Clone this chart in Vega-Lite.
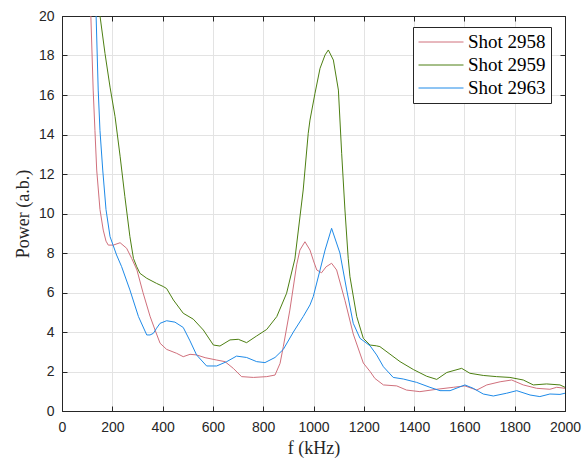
{
  "$schema": "https://vega.github.io/schema/vega-lite/v6.json",
  "width": 503,
  "height": 395,
  "autosize": {"type": "none"},
  "padding": {"left": 62, "top": 16, "right": 19, "bottom": 47},
  "background": "white",
  "datasets": {
    "spectra": [
      {"s":"Shot 2958","f":105,"p":23},{"s":"Shot 2958","f":114,"p":20.3},{"s":"Shot 2958","f":124,"p":16.25},{"s":"Shot 2958","f":131,"p":14.2},{"s":"Shot 2958","f":138,"p":12.2},{"s":"Shot 2958","f":151,"p":10.2},{"s":"Shot 2958","f":164,"p":9.16},{"s":"Shot 2958","f":175,"p":8.6},{"s":"Shot 2958","f":184,"p":8.4},{"s":"Shot 2958","f":204,"p":8.4},{"s":"Shot 2958","f":231,"p":8.52},{"s":"Shot 2958","f":257,"p":8.24},{"s":"Shot 2958","f":277,"p":7.73},{"s":"Shot 2958","f":298,"p":7.14},{"s":"Shot 2958","f":322,"p":6.0},{"s":"Shot 2958","f":350,"p":4.8},{"s":"Shot 2958","f":370,"p":4.1},{"s":"Shot 2958","f":390,"p":3.43},{"s":"Shot 2958","f":416,"p":3.12},{"s":"Shot 2958","f":456,"p":2.92},{"s":"Shot 2958","f":482,"p":2.75},{"s":"Shot 2958","f":509,"p":2.87},{"s":"Shot 2958","f":535,"p":2.84},{"s":"Shot 2958","f":569,"p":2.7},{"s":"Shot 2958","f":615,"p":2.58},{"s":"Shot 2958","f":648,"p":2.5},{"s":"Shot 2958","f":681,"p":2.16},{"s":"Shot 2958","f":714,"p":1.74},{"s":"Shot 2958","f":761,"p":1.7},{"s":"Shot 2958","f":814,"p":1.74},{"s":"Shot 2958","f":847,"p":1.82},{"s":"Shot 2958","f":867,"p":2.41},{"s":"Shot 2958","f":880,"p":3.26},{"s":"Shot 2958","f":906,"p":5.11},{"s":"Shot 2958","f":933,"p":7.4},{"s":"Shot 2958","f":946,"p":8.15},{"s":"Shot 2958","f":966,"p":8.57},{"s":"Shot 2958","f":986,"p":8.15},{"s":"Shot 2958","f":1000,"p":7.6},{"s":"Shot 2958","f":1013,"p":7.14},{"s":"Shot 2958","f":1032,"p":7.0},{"s":"Shot 2958","f":1050,"p":7.3},{"s":"Shot 2958","f":1072,"p":7.48},{"s":"Shot 2958","f":1092,"p":7.14},{"s":"Shot 2958","f":1125,"p":5.6},{"s":"Shot 2958","f":1158,"p":3.9},{"s":"Shot 2958","f":1198,"p":2.43},{"s":"Shot 2958","f":1225,"p":2.0},{"s":"Shot 2958","f":1244,"p":1.65},{"s":"Shot 2958","f":1278,"p":1.32},{"s":"Shot 2958","f":1331,"p":1.27},{"s":"Shot 2958","f":1370,"p":1.06},{"s":"Shot 2958","f":1423,"p":0.98},{"s":"Shot 2958","f":1490,"p":1.1},{"s":"Shot 2958","f":1556,"p":1.2},{"s":"Shot 2958","f":1602,"p":1.27},{"s":"Shot 2958","f":1649,"p":1.06},{"s":"Shot 2958","f":1689,"p":1.32},{"s":"Shot 2958","f":1742,"p":1.48},{"s":"Shot 2958","f":1788,"p":1.57},{"s":"Shot 2958","f":1834,"p":1.32},{"s":"Shot 2958","f":1887,"p":1.15},{"s":"Shot 2958","f":1940,"p":1.1},{"s":"Shot 2958","f":1967,"p":1.2},{"s":"Shot 2958","f":2000,"p":1.15},
      {"s":"Shot 2959","f":140,"p":21.5},{"s":"Shot 2959","f":148,"p":20.3},{"s":"Shot 2959","f":171,"p":18.1},{"s":"Shot 2959","f":191,"p":16.4},{"s":"Shot 2959","f":211,"p":14.9},{"s":"Shot 2959","f":231,"p":12.9},{"s":"Shot 2959","f":250,"p":10.85},{"s":"Shot 2959","f":270,"p":8.83},{"s":"Shot 2959","f":284,"p":7.73},{"s":"Shot 2959","f":297,"p":7.31},{"s":"Shot 2959","f":310,"p":6.97},{"s":"Shot 2959","f":337,"p":6.72},{"s":"Shot 2959","f":376,"p":6.46},{"s":"Shot 2959","f":403,"p":6.3},{"s":"Shot 2959","f":416,"p":6.2},{"s":"Shot 2959","f":443,"p":5.62},{"s":"Shot 2959","f":482,"p":4.95},{"s":"Shot 2959","f":522,"p":4.65},{"s":"Shot 2959","f":562,"p":4.1},{"s":"Shot 2959","f":602,"p":3.34},{"s":"Shot 2959","f":628,"p":3.29},{"s":"Shot 2959","f":668,"p":3.6},{"s":"Shot 2959","f":701,"p":3.63},{"s":"Shot 2959","f":734,"p":3.46},{"s":"Shot 2959","f":774,"p":3.8},{"s":"Shot 2959","f":814,"p":4.13},{"s":"Shot 2959","f":854,"p":4.78},{"s":"Shot 2959","f":893,"p":5.96},{"s":"Shot 2959","f":926,"p":7.7},{"s":"Shot 2959","f":959,"p":11.19},{"s":"Shot 2959","f":979,"p":14.06},{"s":"Shot 2959","f":986,"p":14.73},{"s":"Shot 2959","f":1006,"p":16.09},{"s":"Shot 2959","f":1026,"p":17.35},{"s":"Shot 2959","f":1046,"p":18.03},{"s":"Shot 2959","f":1059,"p":18.28},{"s":"Shot 2959","f":1079,"p":17.77},{"s":"Shot 2959","f":1099,"p":16.25},{"s":"Shot 2959","f":1112,"p":13.05},{"s":"Shot 2959","f":1125,"p":10.18},{"s":"Shot 2959","f":1138,"p":7.73},{"s":"Shot 2959","f":1145,"p":6.8},{"s":"Shot 2959","f":1172,"p":4.78},{"s":"Shot 2959","f":1198,"p":3.68},{"s":"Shot 2959","f":1225,"p":3.34},{"s":"Shot 2959","f":1250,"p":3.3},{"s":"Shot 2959","f":1264,"p":3.26},{"s":"Shot 2959","f":1304,"p":2.88},{"s":"Shot 2959","f":1344,"p":2.5},{"s":"Shot 2959","f":1397,"p":2.1},{"s":"Shot 2959","f":1450,"p":1.76},{"s":"Shot 2959","f":1490,"p":1.6},{"s":"Shot 2959","f":1530,"p":1.95},{"s":"Shot 2959","f":1589,"p":2.16},{"s":"Shot 2959","f":1622,"p":1.91},{"s":"Shot 2959","f":1675,"p":1.8},{"s":"Shot 2959","f":1728,"p":1.74},{"s":"Shot 2959","f":1781,"p":1.7},{"s":"Shot 2959","f":1834,"p":1.57},{"s":"Shot 2959","f":1874,"p":1.32},{"s":"Shot 2959","f":1927,"p":1.37},{"s":"Shot 2959","f":1980,"p":1.32},{"s":"Shot 2959","f":2000,"p":1.2},
      {"s":"Shot 2963","f":125,"p":23},{"s":"Shot 2963","f":135,"p":20.3},{"s":"Shot 2963","f":144,"p":16.25},{"s":"Shot 2963","f":151,"p":14.2},{"s":"Shot 2963","f":162,"p":12.2},{"s":"Shot 2963","f":175,"p":10.2},{"s":"Shot 2963","f":191,"p":8.83},{"s":"Shot 2963","f":217,"p":7.9},{"s":"Shot 2963","f":237,"p":7.31},{"s":"Shot 2963","f":270,"p":6.13},{"s":"Shot 2963","f":304,"p":4.78},{"s":"Shot 2963","f":337,"p":3.85},{"s":"Shot 2963","f":350,"p":3.85},{"s":"Shot 2963","f":363,"p":3.93},{"s":"Shot 2963","f":376,"p":4.19},{"s":"Shot 2963","f":390,"p":4.44},{"s":"Shot 2963","f":416,"p":4.57},{"s":"Shot 2963","f":449,"p":4.5},{"s":"Shot 2963","f":482,"p":4.23},{"s":"Shot 2963","f":509,"p":3.55},{"s":"Shot 2963","f":535,"p":2.84},{"s":"Shot 2963","f":575,"p":2.28},{"s":"Shot 2963","f":615,"p":2.28},{"s":"Shot 2963","f":655,"p":2.5},{"s":"Shot 2963","f":694,"p":2.78},{"s":"Shot 2963","f":734,"p":2.71},{"s":"Shot 2963","f":774,"p":2.5},{"s":"Shot 2963","f":807,"p":2.45},{"s":"Shot 2963","f":847,"p":2.71},{"s":"Shot 2963","f":880,"p":3.12},{"s":"Shot 2963","f":920,"p":4.0},{"s":"Shot 2963","f":959,"p":4.78},{"s":"Shot 2963","f":986,"p":5.37},{"s":"Shot 2963","f":999,"p":5.79},{"s":"Shot 2963","f":1026,"p":7.14},{"s":"Shot 2963","f":1046,"p":8.15},{"s":"Shot 2963","f":1072,"p":9.25},{"s":"Shot 2963","f":1105,"p":8.0},{"s":"Shot 2963","f":1132,"p":6.13},{"s":"Shot 2963","f":1158,"p":4.44},{"s":"Shot 2963","f":1185,"p":3.68},{"s":"Shot 2963","f":1225,"p":3.3},{"s":"Shot 2963","f":1251,"p":2.84},{"s":"Shot 2963","f":1278,"p":2.24},{"s":"Shot 2963","f":1317,"p":1.7},{"s":"Shot 2963","f":1357,"p":1.62},{"s":"Shot 2963","f":1410,"p":1.45},{"s":"Shot 2963","f":1463,"p":1.2},{"s":"Shot 2963","f":1503,"p":1.03},{"s":"Shot 2963","f":1543,"p":1.03},{"s":"Shot 2963","f":1602,"p":1.32},{"s":"Shot 2963","f":1635,"p":1.15},{"s":"Shot 2963","f":1675,"p":0.86},{"s":"Shot 2963","f":1715,"p":0.76},{"s":"Shot 2963","f":1768,"p":0.9},{"s":"Shot 2963","f":1808,"p":1.03},{"s":"Shot 2963","f":1861,"p":0.81},{"s":"Shot 2963","f":1900,"p":0.73},{"s":"Shot 2963","f":1940,"p":0.86},{"s":"Shot 2963","f":1980,"p":0.84},{"s":"Shot 2963","f":2000,"p":0.9}
    ]
  },
  "data": {"name": "spectra"},
  "resolve": {"axis": {"x": "independent", "y": "independent"}},
  "layer": [
    {
      "mark": {"type": "line", "strokeWidth": 1, "clip": true},
      "encoding": {
        "x": {"field": "f", "type": "quantitative", "scale": {"domain": [0, 2000], "nice": false},
              "axis": {"orient": "bottom", "values": [0,200,400,600,800,1000,1200,1400,1600,1800,2000], "format": "d", "labelOverlap": false, "labelFlush": false, "title": "f (kHz)", "grid": true}},
        "y": {"field": "p", "type": "quantitative", "scale": {"domain": [0, 20], "nice": false},
              "axis": {"orient": "left", "values": [0,2,4,6,8,10,12,14,16,18,20], "format": "d", "labelOverlap": false, "labelFlush": false, "title": "Power (a.b.)", "grid": true}},
        "color": {"field": "s", "type": "nominal",
                  "scale": {"domain": ["Shot 2958", "Shot 2959", "Shot 2963"], "range": ["#d0707c", "#4d7f12", "#1e8ae8"]},
                  "legend": {"orient": "none", "legendX": 351, "legendY": 11, "title": null}},
        "order": {"field": "f", "type": "quantitative"}
      }
    },
    {
      "mark": {"type": "point", "opacity": 0},
      "encoding": {
        "x": {"field": "f", "type": "quantitative",
              "axis": {"orient": "top", "values": [0,200,400,600,800,1000,1200,1400,1600,1800,2000], "labels": false, "title": null, "grid": false}},
        "y": {"field": "p", "type": "quantitative",
              "axis": {"orient": "right", "values": [0,2,4,6,8,10,12,14,16,18,20], "labels": false, "title": null, "grid": false}}
      }
    }
  ],
  "config": {
    "view": {"stroke": "#262626", "strokeWidth": 1},
    "axis": {
      "domainColor": "#262626", "domainWidth": 1,
      "tickColor": "#262626", "tickSize": -5, "tickWidth": 1,
      "gridColor": "#e3e3e3", "gridWidth": 1,
      "labelFont": "Liberation Sans", "labelFontSize": 14, "labelColor": "#262626",
      "titleFont": "Liberation Serif", "titleFontSize": 18, "titleFontWeight": "normal", "titleColor": "#262626"
    },
    "axisX": {"labelPadding": 14, "titlePadding": 5},
    "axisY": {"labelPadding": 13, "titlePadding": 6},
    "legend": {
      "symbolType": "stroke", "symbolSize": 2025, "symbolStrokeWidth": 1, "clipHeight": 20,
      "labelFont": "Liberation Serif", "labelFontSize": 19, "labelColor": "#000000",
      "strokeColor": "#262626", "fillColor": "white", "padding": 5, "rowPadding": 3, "labelOffset": 4
    }
  }
}
